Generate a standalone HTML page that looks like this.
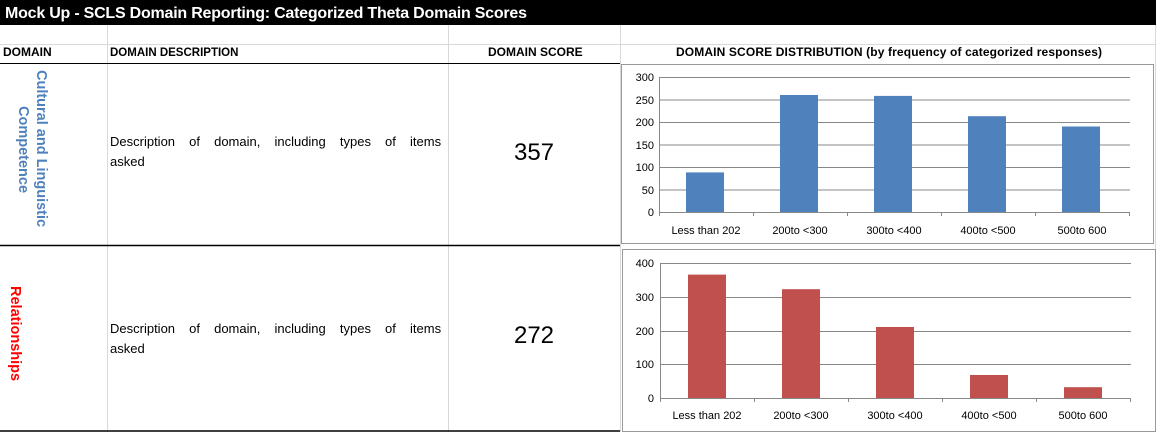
<!DOCTYPE html>
<html><head><meta charset="utf-8"><style>
body{margin:0;background:#fff}
svg{display:block;font-family:"Liberation Sans",sans-serif}
</style></head><body>
<svg width="1156" height="432" viewBox="0 0 1156 432">
<rect x="0" y="0" width="1156" height="25" fill="#000"/>
<text x="5" y="18" fill="#fff" font-size="16" font-weight="bold" textLength="522">Mock Up - SCLS Domain Reporting: Categorized Theta Domain Scores</text>
<g stroke="#d9d9d9" stroke-width="1">
<line x1="0" y1="44.5" x2="1156" y2="44.5"/>
<line x1="107.5" y1="25" x2="107.5" y2="432"/>
<line x1="448.5" y1="25" x2="448.5" y2="432"/>
<line x1="620.5" y1="25" x2="620.5" y2="432"/>
<line x1="1155.5" y1="25" x2="1155.5" y2="432"/>
</g>
<line x1="0" y1="63.5" x2="620" y2="63.5" stroke="#000"/>
<line x1="0" y1="245.5" x2="620" y2="245.5" stroke="#000" stroke-width="1.5"/>
<line x1="0" y1="431" x2="620" y2="431" stroke="#000" stroke-width="1.5"/>
<g font-size="12" font-weight="bold">
<text x="3" y="56">DOMAIN</text>
<text x="110" y="56" font-size="11.5">DOMAIN DESCRIPTION</text>
<text x="488" y="56">DOMAIN SCORE</text>
<text x="676" y="56" textLength="426">DOMAIN SCORE DISTRIBUTION (by frequency of categorized responses)</text>
</g>
<g font-size="14.5" font-weight="bold">
<text transform="translate(37,70) rotate(90)" fill="#4f81bd">Cultural and Linguistic</text>
<text transform="translate(19,106) rotate(90)" fill="#4f81bd">Competence</text>
<text transform="translate(11,286) rotate(90)" fill="#ff0000">Relationships</text>
</g>
<g font-size="13">
<text x="110" y="146" word-spacing="10.5">Description of domain, including types of items</text>
<text x="110" y="166">asked</text>
<text x="110" y="333" word-spacing="10.5">Description of domain, including types of items</text>
<text x="110" y="353">asked</text>
</g>
<text x="534" y="160" font-size="24" text-anchor="middle">357</text>
<text x="534" y="343" font-size="24" text-anchor="middle">272</text>
<!-- chart 1 -->
<rect x="621.5" y="64.5" width="532" height="179" fill="#fff" stroke="#999"/>
<g stroke="#888" stroke-width="1">
<line x1="659" y1="77.5" x2="1130" y2="77.5"/><line x1="659" y1="100" x2="1130" y2="100"/>
<line x1="659" y1="122.5" x2="1130" y2="122.5"/><line x1="659" y1="145" x2="1130" y2="145"/>
<line x1="659" y1="167.5" x2="1130" y2="167.5"/><line x1="659" y1="190" x2="1130" y2="190"/>
<line x1="659" y1="212.5" x2="1130" y2="212.5"/><line x1="659.5" y1="77" x2="659.5" y2="216"/>
<line x1="753.5" y1="212" x2="753.5" y2="216"/><line x1="847.5" y1="212" x2="847.5" y2="216"/>
<line x1="941.5" y1="212" x2="941.5" y2="216"/><line x1="1035.5" y1="212" x2="1035.5" y2="216"/>
<line x1="1129.5" y1="212" x2="1129.5" y2="216"/>
</g>
<g fill="#4f81bd">
<rect x="686" y="172.4" width="38" height="39.6"/><rect x="780" y="95" width="38" height="117"/>
<rect x="874" y="95.9" width="38" height="116.1"/><rect x="968" y="116.2" width="38" height="95.8"/>
<rect x="1062" y="126.5" width="38" height="85.5"/>
</g>
<g font-size="11" text-anchor="end">
<text x="654" y="81">300</text><text x="654" y="104">250</text><text x="654" y="126">200</text>
<text x="654" y="149">150</text><text x="654" y="171">100</text><text x="654" y="194">50</text><text x="654" y="216">0</text>
</g>
<g font-size="11" text-anchor="middle">
<text x="706" y="234">Less than 202</text><text x="800" y="234">200to &lt;300</text>
<text x="894" y="234">300to &lt;400</text><text x="988" y="234">400to &lt;500</text><text x="1082" y="234">500to 600</text>
</g>
<!-- chart 2 -->
<rect x="622.5" y="249.5" width="533" height="182" fill="#fff" stroke="#999"/>
<g stroke="#888" stroke-width="1">
<line x1="660" y1="263.5" x2="1131" y2="263.5"/><line x1="660" y1="297.5" x2="1131" y2="297.5"/>
<line x1="660" y1="331.5" x2="1131" y2="331.5"/><line x1="660" y1="364.5" x2="1131" y2="364.5"/>
<line x1="660" y1="398.5" x2="1131" y2="398.5"/><line x1="660.5" y1="263" x2="660.5" y2="402"/>
<line x1="754.5" y1="398" x2="754.5" y2="402"/><line x1="848.5" y1="398" x2="848.5" y2="402"/>
<line x1="942.5" y1="398" x2="942.5" y2="402"/><line x1="1036.5" y1="398" x2="1036.5" y2="402"/>
<line x1="1130.5" y1="398" x2="1130.5" y2="402"/>
</g>
<g fill="#c0504d">
<rect x="688" y="274.6" width="38" height="123.4"/><rect x="782" y="289.2" width="38" height="108.8"/>
<rect x="876" y="327" width="38" height="71"/><rect x="970" y="375" width="38" height="23"/>
<rect x="1064" y="387.2" width="38" height="10.8"/>
</g>
<g font-size="11" text-anchor="end">
<text x="654" y="267">400</text><text x="654" y="301">300</text><text x="654" y="335">200</text>
<text x="654" y="368">100</text><text x="654" y="402">0</text>
</g>
<g font-size="11" text-anchor="middle">
<text x="707" y="419">Less than 202</text><text x="801" y="419">200to &lt;300</text>
<text x="895" y="419">300to &lt;400</text><text x="989" y="419">400to &lt;500</text><text x="1083" y="419">500to 600</text>
</g>
</svg>
</body></html>
